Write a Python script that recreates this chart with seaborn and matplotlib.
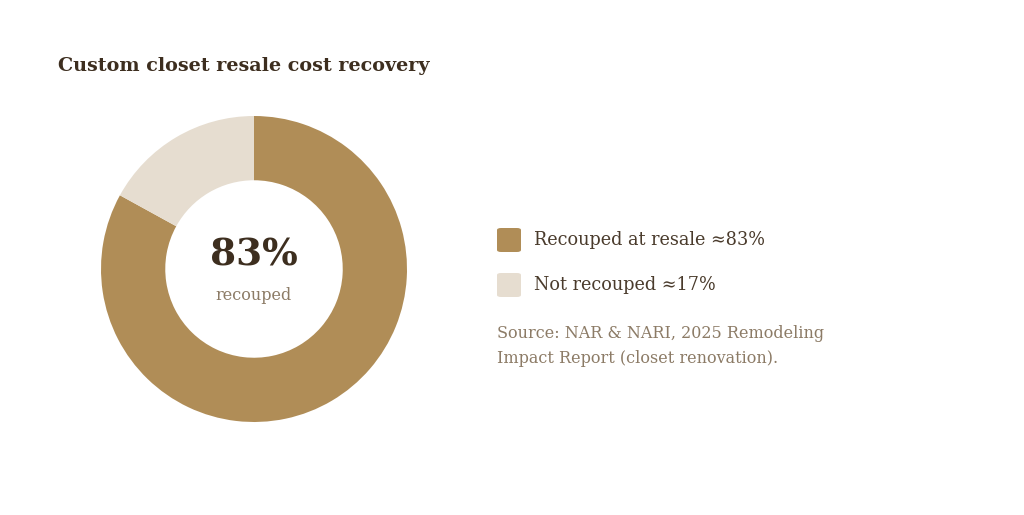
import matplotlib
matplotlib.use('Agg')
import matplotlib.pyplot as plt
from matplotlib.patches import FancyBboxPatch
import seaborn as sns

# data
labels = ['Recouped at resale', 'Not recouped']
shares = [83, 17]
colors = ['#B08D57', '#E6DDD0']
title = 'Custom closet resale cost recovery'
source = 'Source: NAR & NARI, 2025 Remodeling\nImpact Report (closet renovation).'

sns.set_theme(style='white')
plt.rcParams['font.family'] = ['DejaVu Serif']

W, H = 1024, 515
fig = plt.figure(figsize=(W / 100, H / 100), dpi=100)
fig.patch.set_facecolor('white')

# donut
ax = fig.add_axes([101 / W, 93 / H, 306 / W, 306 / H])
ax.pie(shares, colors=colors, startangle=90, counterclock=False,
       wedgeprops=dict(width=0.42, edgecolor='none', linewidth=0))
ax.set_xlim(-1, 1)
ax.set_ylim(-1, 1)
ax.set_aspect('equal')
ax.axis('off')
ax.text(0, 0.09, f'{shares[0]}%', ha='center', va='center', fontsize=27,
        fontweight='bold', color='#3D2E1F')
ax.text(0, -0.17, 'recouped', ha='center', va='center', fontsize=11.5,
        color='#8C7B66')

fig.text(58 / W, 1 - 66 / H, title, fontsize=13.8, fontweight='bold',
         color='#3D2E1F', va='center', ha='left')

# legend
ys = [240, 285]
for lab, val, col, y in zip(labels, shares, colors, ys):
    box = FancyBboxPatch((497 / W, 1 - (y + 12) / H), 24 / W, 24 / H,
                         boxstyle='round,pad=0,rounding_size=0.004',
                         transform=fig.transFigure, facecolor=col,
                         edgecolor='none')
    fig.patches.append(box)
    fig.text(534 / W, 1 - y / H, f'{lab} \u2248{val}%', fontsize=12.7,
             color='#4A3B2C', va='center', ha='left')

fig.text(497 / W, 1 - 346 / H, source, fontsize=11.5, color='#8C7B66',
         va='center', ha='left', linespacing=1.6)

fig.savefig('out.png', dpi=100, facecolor='white')
